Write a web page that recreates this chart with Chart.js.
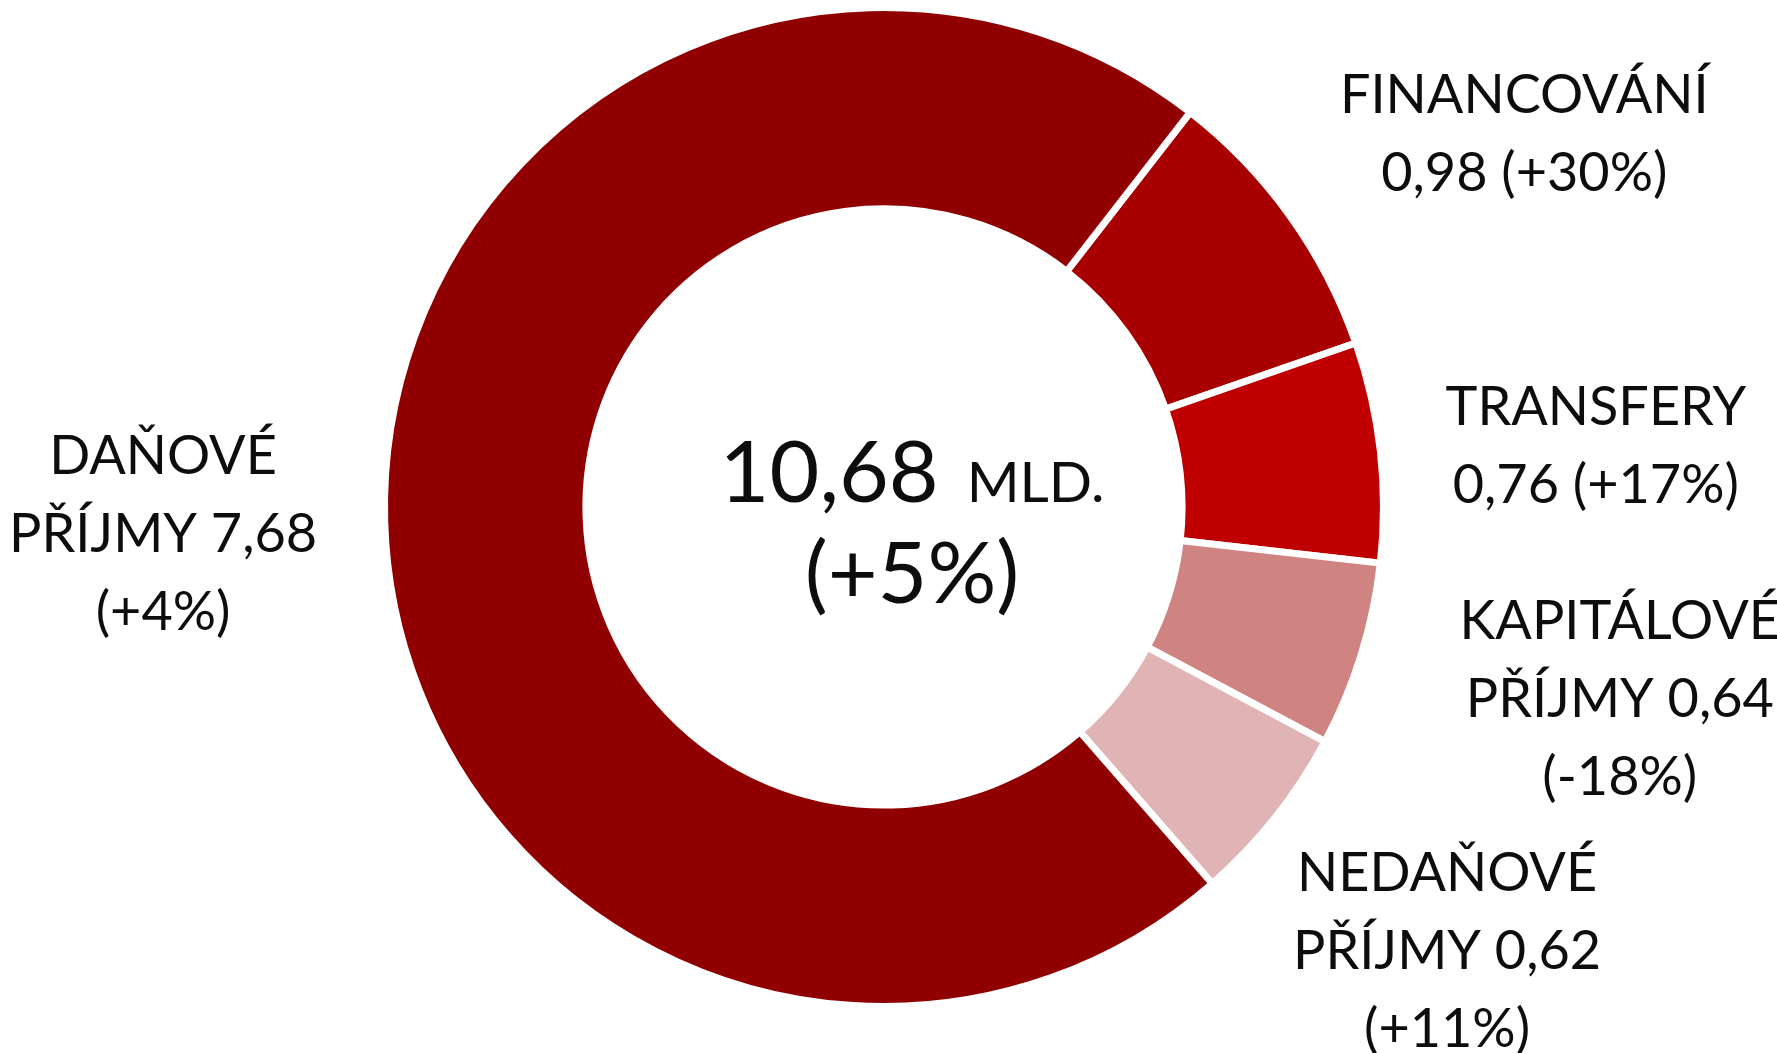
<!DOCTYPE html>
<html>
<head>
<meta charset="utf-8">
<script src="https://cdn.jsdelivr.net/npm/chart.js@4"></script>
<style>
  html, body { margin: 0; padding: 0; background: #ffffff; }
  #wrap { width: 1777px; height: 1053px; position: relative; }
</style>
</head>
<body>
<div id="wrap"><canvas id="prijmy-chart" width="1777" height="1053"></canvas></div>
<script>
// data
const kategorie = ['FINANCOVÁNÍ', 'TRANSFERY', 'KAPITÁLOVÉ PŘÍJMY', 'NEDAŇOVÉ PŘÍJMY', 'DAŇOVÉ PŘÍJMY'];
const hodnoty = [0.98, 0.76, 0.64, 0.62, 7.68];
const zmeny = ['+30%', '+17%', '-18%', '+11%', '+4%'];
const barvy = ['#a80000', '#c00000', '#d08482', '#e0b4b4', '#900000'];
const popisky = [
    ['FINANCOVÁNÍ', '0,98 (+30%)'],
    ['TRANSFERY', '0,76 (+17%)'],
    ['KAPITÁLOVÉ', 'PŘÍJMY 0,64', '(-18%)'],
    ['NEDAŇOVÉ', 'PŘÍJMY 0,62', '(+11%)'],
    ['DAŇOVÉ', 'PŘÍJMY 7,68', '(+4%)']
];
const celkem = '10,68';
const celkemJednotka = 'MLD.';
const celkemZmena = '(+5%)';

const FONT = 'Lato, "Open Sans", sans-serif';
const TEXT_COLOR = '#0d0d0d';
const WEIGHT = 400;

// labels outside each slice, placed from the arc geometry
const popiskyPlugin = {
    id: 'popiskyPlugin',
    afterDraw(chart, args, opts) {
        const ctx = chart.ctx;
        const arcs = chart.getDatasetMeta(0).data;
        ctx.save();
        ctx.fillStyle = TEXT_COLOR;
        ctx.textAlign = 'center';
        ctx.textBaseline = 'alphabetic';
        ctx.font = WEIGHT + ' ' + opts.size + 'px ' + FONT;
        const cap = opts.size * 0.7165;
        arcs.forEach((arc, i) => {
            const p = arc.getProps(['x', 'y', 'startAngle', 'endAngle', 'outerRadius']);
            const mid = (p.startAngle + p.endAngle) / 2;
            const r = p.outerRadius * opts.radiusFactor;
            const nudge = opts.nudge[i] || [0, 0];
            const cx = p.x + Math.cos(mid) * r + nudge[0];
            const cy = p.y + Math.sin(mid) * r + nudge[1];
            const lines = popisky[i];
            const top = cy - (lines.length - 1) * opts.lineHeight / 2;
            lines.forEach((t, j) => {
                ctx.fillText(t, cx, top + j * opts.lineHeight + cap / 2);
            });
        });
        ctx.restore();
    }
};

// total in the middle of the ring
const stredPlugin = {
    id: 'stredPlugin',
    afterDraw(chart, args, opts) {
        const ctx = chart.ctx;
        const arc = chart.getDatasetMeta(0).data[0];
        const cx = arc.x + opts.dx;
        const cy = arc.y;
        ctx.save();
        ctx.fillStyle = TEXT_COLOR;
        ctx.textBaseline = 'alphabetic';
        const bigFont = WEIGHT + ' ' + opts.bigSize + 'px ' + FONT;
        const smallFont = WEIGHT + ' ' + opts.smallSize + 'px ' + FONT;
        ctx.font = bigFont;
        const w1 = ctx.measureText(celkem).width + opts.gap;
        ctx.font = smallFont;
        const w2 = ctx.measureText(celkemJednotka).width;
        let x = cx - (w1 + w2) / 2;
        ctx.textAlign = 'left';
        ctx.font = bigFont;
        ctx.fillText(celkem, x, cy + opts.line1);
        ctx.font = smallFont;
        ctx.fillText(celkemJednotka, x + w1, cy + opts.line1);
        ctx.textAlign = 'center';
        ctx.font = bigFont;
        ctx.fillText(celkemZmena, cx, cy + opts.line2);
        ctx.restore();
    }
};

const ctx = document.getElementById('prijmy-chart').getContext('2d');
new Chart(ctx, {
    type: 'doughnut',
    data: {
        labels: kategorie,
        datasets: [{
            data: hodnoty,
            backgroundColor: barvy,
            borderColor: '#ffffff',
            borderWidth: 7,
            hoverOffset: 0
        }]
    },
    options: {
        responsive: false,
        animation: false,
        events: [],
        rotation: 37.8,
        radius: 499.5,
        cutout: 300.5,
        layout: {
            padding: { left: 0, right: 9, top: 0, bottom: 39 }
        },
        plugins: {
            legend: { display: false },
            tooltip: { enabled: false },
            title: { display: false },
            popiskyPlugin: {
                size: 54,
                lineHeight: 78,
                radiusFactor: 1.45,
                nudge: [[52, 48], [-8, 18], [44, -24], [-4, -8], [3, 5]]
            },
            stredPlugin: {
                bigSize: 86,
                smallSize: 57,
                gap: 28,
                dx: 28,
                line1: -5,
                line2: 96
            }
        }
    },
    plugins: [popiskyPlugin, stredPlugin]
});
</script>
</body>
</html>
